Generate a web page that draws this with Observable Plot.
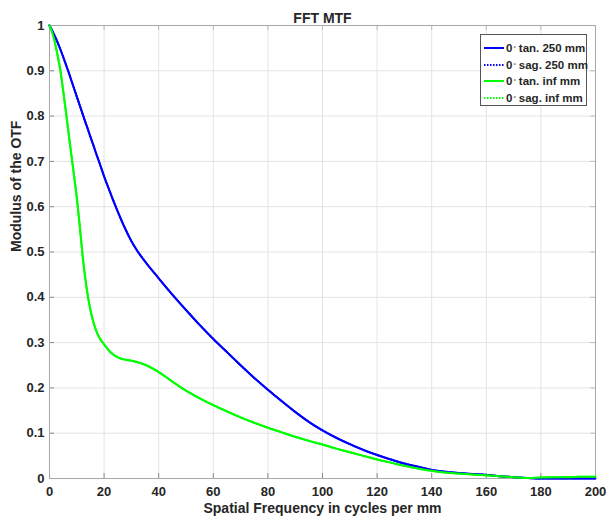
<!DOCTYPE html>
<html>
<head>
<meta charset="utf-8">
<script src="https://cdn.jsdelivr.net/npm/d3@7"></script>
<script src="https://cdn.jsdelivr.net/npm/@observablehq/plot@0.6"></script>
<style>
  html, body { margin: 0; padding: 0; background: #fff; }
  #wrap { position: relative; width: 606px; height: 521px; font-family: "Liberation Sans", Arial, sans-serif; }
  #legend { position: absolute; left: 480px; top: 34px; width: 105px; height: 70px; border: 1px solid #555; background: #fff; box-sizing: content-box; }
  .row { position: absolute; left: 0; height: 16px; display: flex; align-items: center; font-weight: bold; font-size: 11.5px; color: #262626; white-space: nowrap; }
  .row svg { margin-left: 3px; margin-right: 2px; }
  .row sup { font-size: 6px; vertical-align: 6px; margin-left: 1px; margin-right: 3px; }
</style>
</head>
<body>
<div id="wrap"></div>
<script>
const chartTitle = "FFT MTF";
const xLabel = "Spatial Frequency in cycles per mm";
const yLabel = "Modulus of the OTF";
const seriesNames = ["tan. 250 mm", "sag. 250 mm", "tan. inf mm", "sag. inf mm"];
const xTicks = [0, 20, 40, 60, 80, 100, 120, 140, 160, 180, 200];
const yTicks = [0, 0.1, 0.2, 0.3, 0.4, 0.5, 0.6, 0.7, 0.8, 0.9, 1];

const freq = [0,1,2,3,4,5,6,7,8,9,10,11,12,13,14,15,16,17,18,20,22,24,26,28,30,32,35,40,45,50,55,60,65,70,75,80,85,90,95,100,105,110,115,120,125,130,135,140,145,150,155,160,165,170,175,180,185,190,195,200];

const tan250 = [1,0.9885,0.976,0.962,0.947,0.931,0.914,0.897,0.879,0.861,0.843,0.825,0.807,0.789,0.772,0.754,0.737,0.719,0.702,0.667,0.635,0.604,0.575,0.548,0.524,0.504,0.479,0.442,0.406,0.372,0.339,0.308,0.279,0.25,0.222,0.196,0.171,0.147,0.125,0.106,0.09,0.076,0.063,0.052,0.042,0.033,0.026,0.019,0.015,0.012,0.01,0.008,0.005,0.003,0.001,0,0,0,0,0];
const sag250 = [1,0.9885,0.976,0.962,0.947,0.931,0.914,0.897,0.879,0.861,0.843,0.825,0.807,0.789,0.772,0.754,0.737,0.719,0.702,0.667,0.635,0.604,0.575,0.548,0.524,0.504,0.479,0.442,0.406,0.372,0.339,0.308,0.279,0.25,0.222,0.196,0.171,0.147,0.125,0.106,0.09,0.076,0.063,0.052,0.042,0.033,0.026,0.019,0.015,0.012,0.01,0.008,0.005,0.003,0.001,0,0,0,0,0];
const tanInf = [1,0.985,0.962,0.933,0.9,0.857,0.81,0.762,0.715,0.668,0.62,0.562,0.5,0.447,0.405,0.372,0.347,0.328,0.314,0.296,0.281,0.271,0.265,0.262,0.26,0.257,0.251,0.235,0.214,0.194,0.177,0.162,0.148,0.135,0.123,0.112,0.102,0.092,0.083,0.075,0.066,0.058,0.05,0.042,0.035,0.028,0.022,0.017,0.013,0.011,0.009,0.007,0.005,0.003,0.001,0.002,0.003,0.003,0.004,0.004];
const sagInf = [1,0.985,0.962,0.933,0.9,0.857,0.81,0.762,0.715,0.668,0.62,0.562,0.5,0.447,0.405,0.372,0.347,0.328,0.314,0.296,0.281,0.271,0.265,0.262,0.26,0.257,0.251,0.235,0.214,0.194,0.177,0.162,0.148,0.135,0.123,0.112,0.102,0.092,0.083,0.075,0.066,0.058,0.05,0.042,0.035,0.028,0.022,0.017,0.013,0.011,0.009,0.007,0.005,0.003,0.001,0.002,0.003,0.003,0.004,0.004];

const colors = ["#0000ff", "#0000ff", "#00ff00", "#00ff00"];
const dashes = [null, "1.5,1.5", null, "1.5,1.5"];
const allSeries = [tan250, sag250, tanInf, sagInf];

const rows = (vals) => freq.map((f, i) => ({f, v: vals[i]}));

const textColor = "#262626";
const W = 606, H = 521, mL = 49, mR = 11, mT = 25, mB = 43;
const frameW = W - mL - mR, frameH = H - mT - mB;

const lineMarks = [1, 3, 0, 2].map(k =>
  Plot.line(rows(allSeries[k]), {
    x: "f", y: "v", stroke: colors[k], strokeWidth: 2,
    strokeDasharray: dashes[k], curve: "monotone-x"
  })
);

const chart = Plot.plot({
  width: W, height: H,
  marginLeft: mL, marginRight: mR, marginTop: mT, marginBottom: mB,
  style: { fontFamily: "'Liberation Sans', Arial, sans-serif", color: textColor, background: "#fff" },
  x: { domain: [0, 200] },
  y: { domain: [0, 1] },
  marks: [
    Plot.gridX(xTicks, { stroke: "#e3e3e3", strokeOpacity: 1 }),
    Plot.gridY(yTicks, { stroke: "#e3e3e3", strokeOpacity: 1 }),
    Plot.tickX(xTicks, { x: d => d, insetTop: frameH - 5, stroke: "#8a8a8a" }),
    Plot.tickX(xTicks, { x: d => d, insetBottom: frameH - 5, stroke: "#bdbdbd" }),
    Plot.tickY(yTicks, { y: d => d, insetRight: frameW - 5, stroke: "#8a8a8a" }),
    Plot.tickY(yTicks, { y: d => d, insetLeft: frameW - 5, stroke: "#bdbdbd" }),
    Plot.frame({ stroke: "#a8a8a8" }),
    Plot.axisX(xTicks, { tickSize: 0, tickPadding: 8, fontSize: 13, fontWeight: "bold", fill: textColor, label: null }),
    Plot.axisY(yTicks, { tickSize: 0, tickPadding: 5, fontSize: 13, fontWeight: "bold", fill: textColor, label: null, tickFormat: d => String(d) }),
    ...lineMarks,
    Plot.text([chartTitle], { text: d => d, frameAnchor: "top", dy: -12, fontSize: 14, fontWeight: "bold", fill: textColor }),
    Plot.text([xLabel], { text: d => d, frameAnchor: "bottom", dy: 34, fontSize: 14, fontWeight: "bold", fill: textColor }),
    Plot.text([yLabel], { text: d => d, frameAnchor: "left", dx: -33, rotate: -90, fontSize: 14, fontWeight: "bold", fill: textColor })
  ]
});

const wrap = document.getElementById("wrap");
wrap.appendChild(chart);

// Legend
const legend = document.createElement("div");
legend.id = "legend";
seriesNames.forEach((name, k) => {
  const row = document.createElement("div");
  row.className = "row";
  row.style.top = (5 + k * 16.7) + "px";
  const dash = dashes[k] ? `stroke-dasharray="${dashes[k]}"` : "";
  row.innerHTML = `<svg width="20" height="6"><line x1="0" y1="3" x2="20" y2="3" stroke="${colors[k]}" stroke-width="2" ${dash}/></svg><span>0</span><sup>°</sup><span>${name}</span>`;
  legend.appendChild(row);
});
wrap.appendChild(legend);
</script>
</body>
</html>
